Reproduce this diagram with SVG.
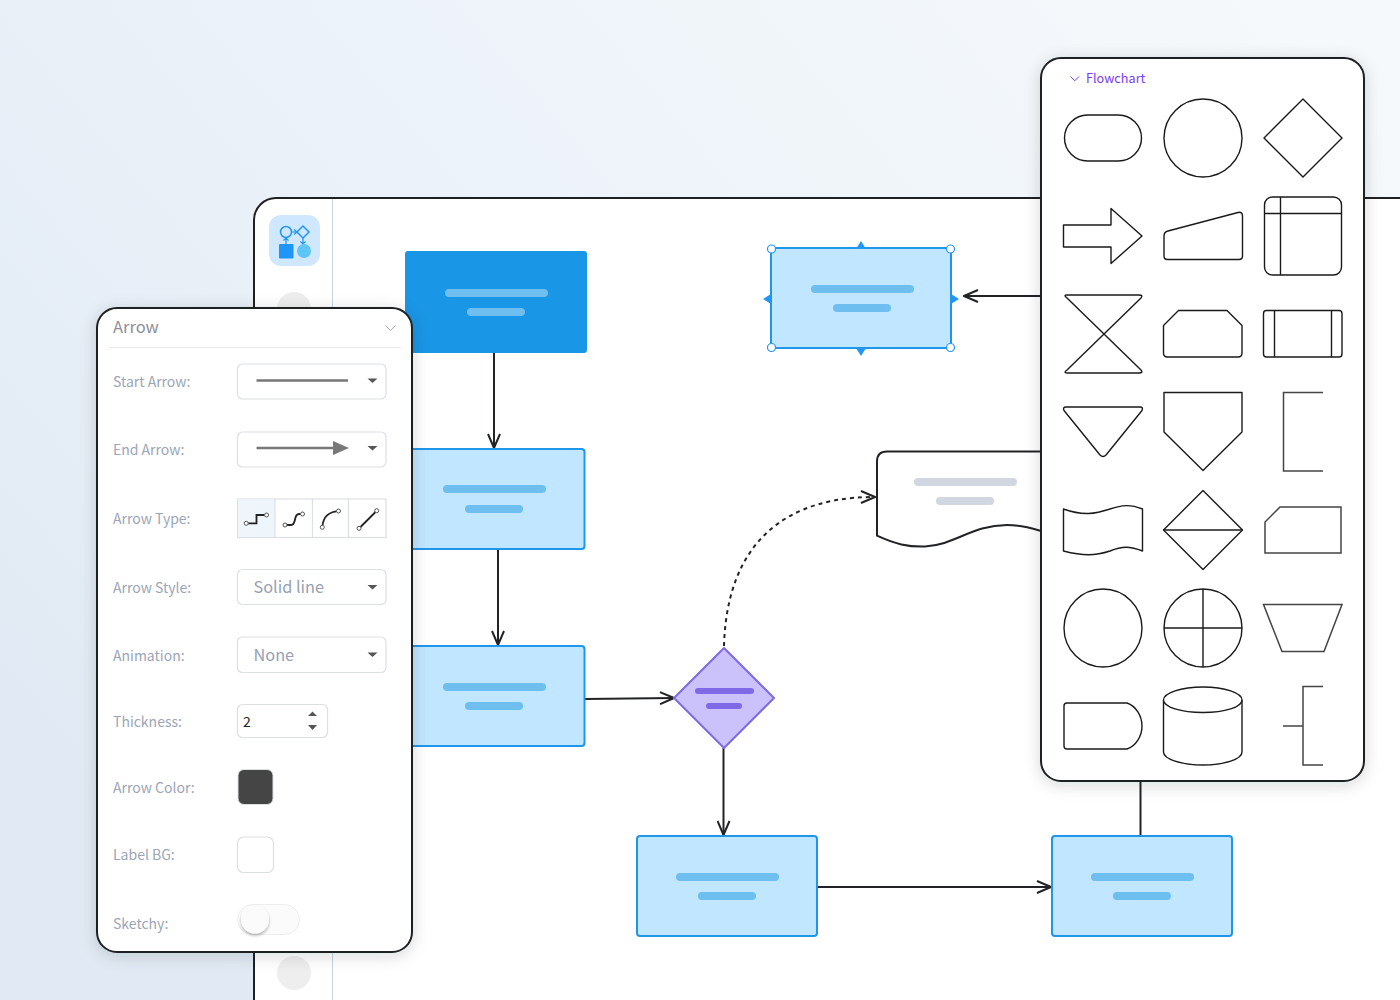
<svg xmlns="http://www.w3.org/2000/svg" width="1400" height="1000" viewBox="0 0 1400 1000">
<defs>
<linearGradient id="bg" x1="0" y1="0.7" x2="1" y2="0.1"><stop offset="0" stop-color="#e1eaf4"/><stop offset="0.5" stop-color="#edf3fa"/><stop offset="1" stop-color="#f6f9fb"/></linearGradient>
<filter id="sh" x="-15%" y="-15%" width="130%" height="130%"><feDropShadow dx="0" dy="3" stdDeviation="8" flood-color="#1a2433" flood-opacity="0.16"/></filter>
<filter id="ks" x="-40%" y="-40%" width="180%" height="180%"><feDropShadow dx="0" dy="2" stdDeviation="1.5" flood-color="#000" flood-opacity="0.3"/></filter>
<marker id="open" viewBox="0 0 16 14" refX="15" refY="7" markerWidth="16" markerHeight="14" markerUnits="userSpaceOnUse" orient="auto"><path d="M1 1 L15 7 L1 13" fill="none" stroke="#222326" stroke-width="2"/></marker>
</defs>
<style>
text{font-family:"Noto Sans CJK SC","Noto Sans",sans-serif}
.lb{font-size:14px;fill:#9ba5b7}
.val{font-size:16.300px;fill:#97a1b3}
.ctl{fill:#fff;stroke:#dcdfe3;stroke-width:1.2}
.dd{fill:#555}
.node{fill:#c1e6ff;stroke:#1f96ea;stroke-width:2}
.bar{fill:#6fbef0}
.cn{fill:none;stroke:#222326;stroke-width:2}
.s{fill:#fff;stroke:#1a1a1a;stroke-width:1.400;stroke-linejoin:round}
.g{fill:none;stroke:#6f6f6f;stroke-width:1.500}
.ti{fill:none;stroke:#222;stroke-width:1.800}
.tc{fill:#fff;stroke:#555;stroke-width:1}
.hd{fill:#fff;stroke:#2196f3;stroke-width:1.200}
.ar{fill:#2196f3}
</style>
<rect width="1400" height="1000" fill="url(#bg)"/>

<g id="canvas">
<path d="M1400 198H276a22 22 0 0 0-22 22V1000H1400Z" fill="#fff"/>
<path d="M1400 198H276a22 22 0 0 0-22 22V1000" fill="none" stroke="#1f2023" stroke-width="2"/>
<line x1="332.500" y1="199" x2="332.500" y2="1000" stroke="#c8d4de" stroke-width="1"/>
<circle cx="294" cy="309" r="17" fill="#eeeeee"/>
<circle cx="294" cy="973" r="17" fill="#eeeeee"/>
</g>

<g id="app-icon">
<rect x="269" y="215" width="51" height="51" rx="12" fill="#cfe8ff"/>
<circle cx="286" cy="232" r="5.500" fill="none" stroke="#2196f3" stroke-width="1.500"/>
<path d="M303 226L309 232L303 238L297 232Z" fill="none" stroke="#2196f3" stroke-width="1.500"/>
<path d="M291.500 232H297M294 229.500L297 232L294 234.500M286 244V238M283.500 240.500L286 238L288.500 240.500M303 238V244M300.500 241.500L303 244L305.500 241.500" fill="none" stroke="#2196f3" stroke-width="1.200"/>
<rect x="279" y="244" width="14.500" height="14.500" rx="1" fill="#1e96f5"/>
<circle cx="304" cy="251" r="7" fill="#5fc4f6"/>
</g>

<g id="connectors">
<path class="cn" d="M494 353V448" marker-end="url(#open)"/>
<path class="cn" d="M498 549V645" marker-end="url(#open)"/>
<path class="cn" d="M585 699L674 698" marker-end="url(#open)"/>
<path class="cn" d="M723.500 748V835" marker-end="url(#open)"/>
<path class="cn" d="M818 887H1051" marker-end="url(#open)"/>
<path class="cn" d="M1041 296H964" marker-end="url(#open)"/>
<path class="cn" d="M1140.500 781V836"/>
<path class="cn" d="M724 646C726 570 760 497 875 497" stroke-dasharray="4 4" marker-end="url(#open)"/>
</g>

<g id="node-dark">
<rect x="405" y="251" width="182" height="102" rx="3" fill="#1a96e6"/>
<rect x="445" y="289" width="103" height="8" rx="4" fill="#6fbef0"/>
<rect x="467" y="308" width="58" height="8" rx="4" fill="#6fbef0"/>
</g>
<g id="node-2">
<rect class="node" x="380" y="449" width="204.500" height="100" rx="3"/>
<rect class="bar" x="443" y="485" width="103" height="8" rx="4"/>
<rect class="bar" x="465" y="505" width="58" height="8" rx="4"/>
</g>
<g id="node-3">
<rect class="node" x="380" y="646" width="204.500" height="100" rx="3"/>
<rect class="bar" x="443" y="683" width="103" height="8" rx="4"/>
<rect class="bar" x="465" y="702" width="58" height="8" rx="4"/>
</g>
<g id="node-decision">
<path d="M724 648L774 698L724 748L674 698Z" fill="#cbc2fb" stroke="#7f69e6" stroke-width="2" stroke-linejoin="round"/>
<rect x="695" y="688" width="59" height="6" rx="3" fill="#7f69e6"/>
<rect x="706" y="703" width="36" height="6" rx="3" fill="#7f69e6"/>
</g>
<g id="node-selected">
<rect class="node" x="771" y="248" width="180" height="100" rx="1"/>
<rect class="bar" x="811" y="285" width="103" height="8" rx="4"/>
<rect class="bar" x="833" y="304" width="58" height="8" rx="4"/>
<path class="ar" d="M856 249L861 241L866 249ZM856 348L861 356L866 348ZM771 294L763 299L771 304ZM951 294L959 299L951 304Z"/>
<circle class="hd" cx="771.500" cy="249" r="4"/><circle class="hd" cx="950.500" cy="249" r="4"/>
<circle class="hd" cx="771.500" cy="347.500" r="4"/><circle class="hd" cx="950.500" cy="347.500" r="4"/>
</g>
<g id="node-bottom-1">
<rect class="node" x="637" y="836" width="180" height="100" rx="3"/>
<rect class="bar" x="676" y="873" width="103" height="8" rx="4"/>
<rect class="bar" x="698" y="892" width="58" height="8" rx="4"/>
</g>
<g id="node-bottom-2">
<rect class="node" x="1052" y="836" width="180" height="100" rx="3"/>
<rect class="bar" x="1091" y="873" width="103" height="8" rx="4"/>
<rect class="bar" x="1113" y="892" width="58" height="8" rx="4"/>
</g>
<g id="node-document">
<path d="M1060 451.500H887Q877 451.500 877 461.500V535.700C895 544 908 547 925 546.500C955 545 972 525 1007 525C1020 525 1030 527 1060 537Z" fill="#fff" stroke="#222326" stroke-width="2"/>
<rect x="914" y="478" width="103" height="8" rx="4" fill="#d0d7e0"/>
<rect x="936" y="497" width="58" height="8" rx="4" fill="#d0d7e0"/>
</g>

<g id="arrow-panel">
<rect x="97" y="308" width="315" height="644" rx="20" fill="#fff" stroke="#1f2023" stroke-width="2" filter="url(#sh)"/>
<text x="113" y="333.300" font-size="16.500" fill="#8c8f99">Arrow</text>
<path d="M385.500 325.500L390.500 330.500L395.500 325.500" fill="none" stroke="#a5a9b0" stroke-width="1"/>
<line x1="110" y1="347.500" x2="401" y2="347.500" stroke="#e6e8eb" stroke-width="1"/>

<text class="lb" x="113" y="387">Start Arrow:</text>
<rect class="ctl" x="237.500" y="364" width="148.500" height="35" rx="5"/>
<line x1="256.500" y1="380.500" x2="348" y2="380.500" stroke="#777" stroke-width="2.500"/>
<path class="dd" d="M367.500 378.500H377.500L372.500 383Z"/>

<text class="lb" x="113" y="455">End Arrow:</text>
<rect class="ctl" x="237.500" y="432" width="148.500" height="35" rx="5"/>
<line x1="256.500" y1="448" x2="336" y2="448" stroke="#777" stroke-width="2.500"/>
<path d="M333 441L349 448L333 455Z" fill="#777"/>
<path class="dd" d="M367.500 446H377.500L372.500 450.500Z"/>

<text class="lb" x="113" y="524">Arrow Type:</text>
<rect class="ctl" x="237.500" y="499" width="148.500" height="38.500"/>
<rect x="238" y="499.500" width="37" height="37.500" fill="#eef5fb"/>
<path d="M275 499V537.500M312.500 499V537.500M348.500 499V537.500" stroke="#dcdfe3" stroke-width="1.200" fill="none"/>
<path class="ti" d="M248 523.300H256.500V515H265"/>
<circle class="tc" cx="246.200" cy="523.300" r="2"/><circle class="tc" cx="266.500" cy="515" r="2"/>
<path class="ti" d="M287 525H291C297 525 293 514 299 514H300.500"/>
<circle class="tc" cx="285" cy="525" r="2"/><circle class="tc" cx="302.500" cy="514" r="2"/>
<path class="ti" d="M322.500 525.500C323.500 517 329 512 336.500 511.300"/>
<circle class="tc" cx="322.300" cy="527.300" r="2"/><circle class="tc" cx="338.500" cy="511" r="2"/>
<path class="ti" d="M360.500 527L375.500 512"/>
<circle class="tc" cx="359" cy="528.300" r="2"/><circle class="tc" cx="376.700" cy="510.700" r="2"/>

<text class="lb" x="113" y="593">Arrow Style:</text>
<rect class="ctl" x="237.500" y="569.500" width="148.500" height="35" rx="5"/>
<text class="val" x="253.500" y="593">Solid line</text>
<path class="dd" d="M367.500 585H377.500L372.500 589.500Z"/>

<text class="lb" x="113" y="661">Animation:</text>
<rect class="ctl" x="237.500" y="637" width="148.500" height="35.500" rx="5"/>
<text class="val" x="253.500" y="661">None</text>
<path class="dd" d="M367.500 652.500H377.500L372.500 657Z"/>

<text class="lb" x="113" y="727">Thickness:</text>
<rect class="ctl" x="237.500" y="704.500" width="90" height="33" rx="5"/>
<text x="243" y="727" font-size="14" fill="#222">2</text>
<path d="M308 716H317L312.500 711.500ZM308 725H317L312.500 730Z" fill="#555"/>

<text class="lb" x="113" y="792.500">Arrow Color:</text>
<rect x="238" y="769.500" width="35" height="35" rx="6" fill="#454545" stroke="#dcdfe3" stroke-width="1"/>

<text class="lb" x="113" y="860">Label BG:</text>
<rect class="ctl" x="237.500" y="837" width="36" height="35.500" rx="6"/>

<text class="lb" x="113" y="928.500">Sketchy:</text>
<rect x="237.500" y="904.500" width="62" height="30" rx="15" fill="#fbfbfb" stroke="#eeeeee" stroke-width="1"/>
<circle cx="255" cy="919.500" r="14" fill="#fbfbfb" filter="url(#ks)"/>
</g>

<g id="shape-panel">
<rect x="1041" y="58" width="323" height="723" rx="20" fill="#fff" stroke="#1f2023" stroke-width="2" filter="url(#sh)"/>
<path d="M1070.500 76.500L1074.800 80.800L1079 76.500" fill="none" stroke="#7a3cf5" stroke-width="1"/>
<text x="1086" y="83" font-size="12.700" fill="#7a3cf5">Flowchart</text>
<rect class="s" x="1064.500" y="115" width="77" height="46" rx="23"/>
<circle class="s" cx="1203" cy="138" r="39"/>
<path class="s" d="M1303 99L1342 138L1303 177L1264 138Z"/>
<path class="s" d="M1063.500 225H1111V208.500L1142 236L1111 263.500V247H1063.500Z"/>
<path class="s" d="M1168 231L1238 212.500Q1242.500 211.500 1242.500 216V256Q1242.500 259.500 1239 259.500H1167.500Q1164 259.500 1164 256V236Q1164 232 1168 231Z"/>
<g class="s"><rect x="1264.500" y="197" width="77" height="78" rx="8"/><path d="M1264.500 213.500H1341.500M1280.500 197V275"/></g>
<path class="s" d="M1067 295H1139Q1143.500 295 1141 298L1067 370Q1063 373 1067 373H1139Q1143.500 373 1141 370L1067 298Q1063 295 1067 295Z"/>
<path class="s" d="M1178.500 310.500H1227L1242 325.500V353Q1242 357 1238 357H1167.500Q1163.500 357 1163.500 353V325.500Z"/>
<g class="s"><rect x="1263.500" y="310.500" width="78.500" height="46.500" rx="3"/><path d="M1274.500 310.500V357M1331.500 310.500V357"/></g>
<path class="s" d="M1066 407H1140Q1143.500 407 1142 410.500L1106 455Q1103 458 1100 455L1064 410.500Q1062.500 407 1066 407Z"/>
<path class="s" d="M1164 392.500H1242V432L1203 470.500L1164 432Z"/>
<path class="g" d="M1323 392.500H1283.500V471H1323" style="stroke:#444"/>
<path class="s" d="M1063.500 509C1083 516 1095 514 1110 509C1122 505 1130 504 1142.500 509V551C1130 546 1122 546 1110 551C1095 556 1083 556 1063.500 551Z"/>
<g class="s"><path d="M1203 490.500L1242.500 530L1203 569.500L1163.500 530Z"/><path d="M1163.500 530H1242.500"/></g>
<path class="g" d="M1280 507H1341V553H1265V522Z" fill="#fff" style="stroke:#444"/>
<circle class="s" cx="1103" cy="628" r="39"/>
<g class="s"><circle cx="1203" cy="628" r="39"/><path d="M1164 628H1242M1203 589V667"/></g>
<path class="g" d="M1263.500 604.500H1342L1324 651.500H1282Z" fill="#fff" style="stroke:#444"/>
<path class="s" d="M1067 703H1127C1136 706 1142 716 1142 726C1142 736 1136 746 1127 749H1067Q1064 749 1064 746V706Q1064 703 1067 703Z"/>
<g class="s"><path d="M1163.500 700C1163.500 693 1181 687 1203 687C1225 687 1242 693 1242 700V752C1242 759 1225 765 1203 765C1181 765 1163.500 759 1163.500 752Z"/><path d="M1163.500 700C1163.500 707 1181 712.500 1203 712.500C1225 712.500 1242 707 1242 700"/></g>
<path class="g" d="M1323 686.500H1303V765H1323M1283 726H1303" style="stroke:#444"/>
</g>
</svg>
